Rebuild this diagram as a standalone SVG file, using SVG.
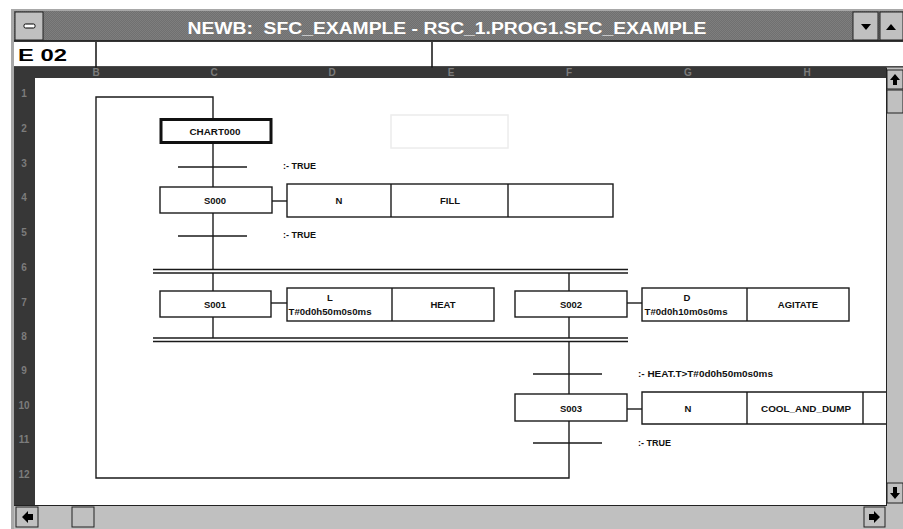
<svg xmlns="http://www.w3.org/2000/svg" width="903" height="529" viewBox="0 0 903 529">
<defs>
<style>
.box{fill:#fff;stroke:#1a1a1a;stroke-width:1.4}
.ln{stroke:#1a1a1a;stroke-width:1.4;fill:none}
.t{font-family:"Liberation Sans",Arial,sans-serif;font-weight:bold;font-size:9.5px;fill:#111;text-anchor:middle}
.lbl{font-family:"Liberation Sans",Arial,sans-serif;font-weight:bold;font-size:9px;fill:#111}
.ruler{font-family:"Liberation Sans",Arial,sans-serif;font-weight:bold;font-size:10px;fill:#7c7c7c;text-anchor:middle}
.btn{fill:#c0c0c0;stroke:#222;stroke-width:1}
.ico{fill:#000}
</style>
<pattern id="dither" width="2" height="2" patternUnits="userSpaceOnUse">
<rect width="2" height="2" fill="#707070"/>
<rect width="1" height="1" fill="#7e7e7e"/>
<rect x="1" y="1" width="1" height="1" fill="#7e7e7e"/>
</pattern>
</defs>

<!-- window chrome -->
<rect x="0" y="0" width="903" height="529" fill="#fff"/>
<rect x="11" y="9" width="892" height="520" fill="#a8a8a8"/>
<rect x="14" y="11" width="889" height="30" fill="url(#dither)"/>
<line x1="14" y1="41" x2="903" y2="41" stroke="#111" stroke-width="1.5"/>
<rect class="btn" x="15" y="12" width="28" height="28"/>
<rect x="24" y="24" width="11" height="4" rx="1.5" fill="#fff" stroke="#000" stroke-width="1"/>
<rect class="btn" x="853" y="12" width="25" height="28"/>
<polygon class="ico" points="861,24 871,24 866,30"/>
<rect class="btn" x="880" y="12" width="23" height="28"/>
<polygon class="ico" points="886,30 896,30 891,24"/>
<text x="447" y="34" font-family="'Liberation Sans',Arial,sans-serif" font-weight="bold" font-size="16" fill="#fff" text-anchor="middle" textLength="519" lengthAdjust="spacingAndGlyphs" xml:space="preserve">NEWB:  SFC_EXAMPLE - RSC_1.PROG1.SFC_EXAMPLE</text>

<!-- name / edit row -->
<rect x="14" y="42" width="889" height="25" fill="#fff"/>
<line x1="14" y1="67" x2="903" y2="67" stroke="#111" stroke-width="1.5"/>
<line x1="96" y1="42" x2="96" y2="70" stroke="#111" stroke-width="1.5"/>
<line x1="432" y1="42" x2="432" y2="70" stroke="#111" stroke-width="1.5"/>
<text x="18" y="61" font-family="'Liberation Sans',Arial,sans-serif" font-weight="bold" font-size="17" fill="#000" textLength="49" lengthAdjust="spacingAndGlyphs">E 02</text>

<!-- rulers -->
<rect x="14" y="67.5" width="873" height="10.5" fill="#373737"/>
<rect x="14" y="67.5" width="21" height="437.5" fill="#373737"/>
<g class="ruler" font-size="9">
<text x="96" y="76">B</text>
<text x="214" y="76">C</text>
<text x="332" y="76">D</text>
<text x="451" y="76">E</text>
<text x="569" y="76">F</text>
<text x="688" y="76">G</text>
<text x="807" y="76">H</text>
</g>
<g class="ruler">
<text x="24" y="97">1</text>
<text x="24" y="132">2</text>
<text x="24" y="167">3</text>
<text x="24" y="201">4</text>
<text x="24" y="236">5</text>
<text x="24" y="271">6</text>
<text x="24" y="306">7</text>
<text x="24" y="340">8</text>
<text x="24" y="374">9</text>
<text x="24" y="409">10</text>
<text x="24" y="443">11</text>
<text x="24" y="478">12</text>
</g>

<!-- drawing canvas -->
<rect x="35" y="78" width="852" height="427" fill="#fff"/>

<!-- scroll bars -->
<rect x="886" y="67.5" width="17" height="437.5" fill="#c0c0c0"/>
<line x1="886.5" y1="67.5" x2="886.5" y2="505" stroke="#222" stroke-width="1"/>
<rect class="btn" x="887" y="70" width="16" height="19"/>
<polygon class="ico" points="895,74 890,80 893,80 893,85 897,85 897,80 900,80"/>
<rect class="btn" x="887" y="90" width="16" height="23"/>
<rect class="btn" x="887" y="483" width="16" height="20"/>
<polygon class="ico" points="895,499 890,493 893,493 893,487 897,487 897,493 900,493"/>
<rect x="14" y="505" width="889" height="24" fill="#c0c0c0"/>
<line x1="14" y1="505.5" x2="887" y2="505.5" stroke="#222" stroke-width="1.2"/>
<rect class="btn" x="16" y="507" width="22" height="20"/>
<polygon class="ico" points="22,517 28,511 28,514 33,514 33,520 28,520 28,523"/>
<rect class="btn" x="72" y="507" width="22" height="20"/>
<rect class="btn" x="864" y="507" width="21" height="20"/>
<polygon class="ico" points="880,517 874,511 874,514 869,514 869,520 874,520 874,523"/>

<!-- faint unused cell -->
<rect x="391" y="115" width="117" height="33" fill="none" stroke="#ececec" stroke-width="1.5"/>

<!-- connectors -->
<g id="connectors" class="ln">
<polyline points="569,421 569,478 96,478 96,97 213,97 213,119"/>
<line x1="213" y1="143" x2="213" y2="187"/>
<line x1="213" y1="213" x2="213" y2="270"/>
<line x1="178" y1="167" x2="247" y2="167"/>
<line x1="178" y1="236" x2="247" y2="236"/>
<line x1="272" y1="201" x2="287" y2="201"/>
<line x1="153" y1="269.5" x2="628" y2="269.5"/>
<line x1="153" y1="273" x2="628" y2="273"/>
<line x1="213" y1="273" x2="213" y2="291"/>
<line x1="569" y1="273" x2="569" y2="291"/>
<line x1="271" y1="303" x2="287" y2="303"/>
<line x1="627" y1="303" x2="642" y2="303"/>
<line x1="213" y1="317" x2="213" y2="338"/>
<line x1="569" y1="317" x2="569" y2="338"/>
<line x1="153" y1="338" x2="628" y2="338"/>
<line x1="153" y1="341.5" x2="628" y2="341.5"/>
<line x1="569" y1="341.5" x2="569" y2="394"/>
<line x1="533" y1="374" x2="602" y2="374"/>
<line x1="627" y1="409" x2="642" y2="409"/>
<line x1="533" y1="443" x2="602" y2="443"/>
</g>

<!-- transition conditions -->
<g id="transitions">
<text class="lbl" x="283" y="169">:- TRUE</text>
<text class="lbl" x="283" y="238">:- TRUE</text>
<text class="lbl" x="638" y="377" font-size="8.5" textLength="135" lengthAdjust="spacingAndGlyphs">:- HEAT.T&gt;T#0d0h50m0s0ms</text>
<text class="lbl" x="638" y="446">:- TRUE</text>
</g>

<!-- steps -->
<g id="CHART000">
<rect x="161" y="119.5" width="110" height="23" fill="#fff" stroke="#111" stroke-width="3"/>
<text class="t" x="215" y="134.5" textLength="51" lengthAdjust="spacingAndGlyphs">CHART000</text>
</g>
<g id="S000">
<rect class="box" x="160" y="187" width="112" height="26"/>
<text class="t" x="215" y="203.5">S000</text>
</g>
<g id="S001">
<rect class="box" x="160" y="291" width="111" height="26"/>
<text class="t" x="215" y="307.5">S001</text>
</g>
<g id="S002">
<rect class="box" x="515" y="291" width="112" height="26"/>
<text class="t" x="571" y="307.5">S002</text>
</g>
<g id="S003">
<rect class="box" x="515" y="394" width="112" height="27"/>
<text class="t" x="571" y="411.5">S003</text>
</g>

<!-- action blocks -->
<g id="S000_actions">
<rect class="box" x="287" y="184" width="326" height="33"/>
<line class="ln" x1="391" y1="184" x2="391" y2="217"/>
<line class="ln" x1="508" y1="184" x2="508" y2="217"/>
<text class="t" x="339" y="204">N</text>
<text class="t" x="450" y="204">FILL</text>
</g>
<g id="S001_actions">
<rect class="box" x="287" y="288" width="207" height="33"/>
<line class="ln" x1="392" y1="288" x2="392" y2="321"/>
<text class="t" x="330" y="301">L</text>
<text class="t" x="330" y="315" font-size="8" textLength="83" lengthAdjust="spacingAndGlyphs">T#0d0h50m0s0ms</text>
<text class="t" x="443" y="307.5">HEAT</text>
</g>
<g id="S002_actions">
<rect class="box" x="642" y="288" width="207" height="33"/>
<line class="ln" x1="747" y1="288" x2="747" y2="321"/>
<text class="t" x="687" y="301">D</text>
<text class="t" x="686" y="315" font-size="8" textLength="83" lengthAdjust="spacingAndGlyphs">T#0d0h10m0s0ms</text>
<text class="t" x="798" y="307.5">AGITATE</text>
</g>
<g id="S003_actions">
<polyline class="ln" points="886,392 642,392 642,424 886,424"/>
<line class="ln" x1="747" y1="392" x2="747" y2="424"/>
<line class="ln" x1="863" y1="392" x2="863" y2="424"/>
<text class="t" x="688" y="411.5">N</text>
<text class="t" x="806" y="411.5" textLength="90" lengthAdjust="spacingAndGlyphs">COOL_AND_DUMP</text>
</g>
</svg>
